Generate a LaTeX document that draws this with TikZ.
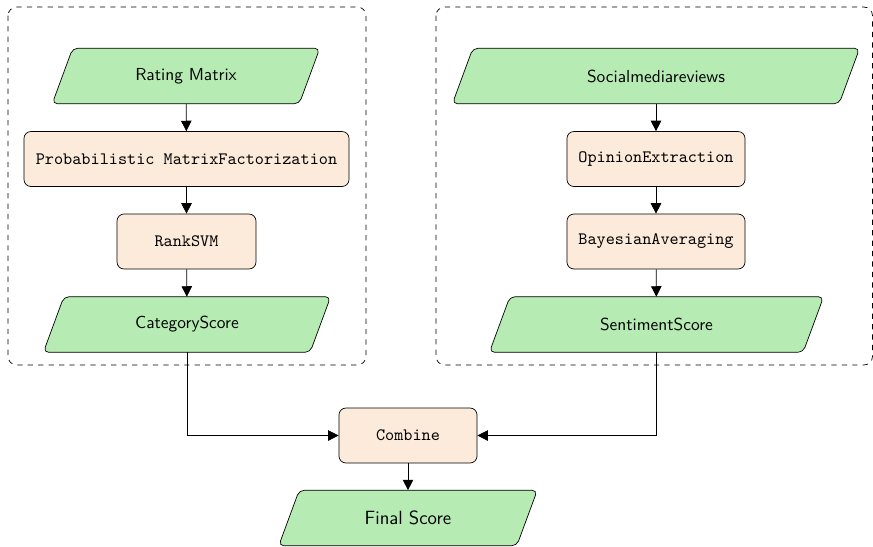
\documentclass[tikz,border=0pt]{standalone}
\usetikzlibrary{arrows.meta,backgrounds}
\definecolor{iogreen}{RGB}{182,236,179}
\definecolor{procorange}{RGB}{252,235,218}
\begin{document}
\begin{tikzpicture}[x=0.575pt,y=-0.575pt,
  iobox/.style={rectangle, minimum height=31.6pt, inner sep=2pt, font=\sffamily},
  iofill/.style={draw, fill=iogreen, rounded corners=3pt},
  procbox/.style={rectangle, draw, fill=procorange, rounded corners=4pt,
    minimum height=31.6pt, inner sep=2pt, font=\ttfamily},
  flow/.style={-{Triangle[length=6pt,width=6pt]}},
  group/.style={draw, dashed, rounded corners=5pt}]
\useasboundingbox (0,0) rectangle (873,546);

% dashed groups
\draw[group] (8,7) rectangle (366,365);
\draw[group] (436,7) rectangle (872.5,365);

% left branch
\node[iobox, minimum width=141.7pt] (rating) at (186,76) {Rating Matrix};
\node[procbox, minimum width=186.9pt] (pmf) at (186.5,159) {Probabilistic MatrixFactorization};
\node[procbox, minimum width=79.9pt] (rank) at (186.5,241.5) {RankSVM};
\node[iobox, minimum width=153pt] (cat) at (187,324.5) {CategoryScore};

% right branch
\node[iobox, minimum width=222pt] (social) at (656,76) {Socialmediareviews};
\node[procbox, minimum width=102.4pt] (opinion) at (656,159) {OpinionExtraction};
\node[procbox, minimum width=102.4pt] (bayes) at (656,241.5) {BayesianAveraging};
\node[iobox, minimum width=180pt] (senti) at (656.5,324.5) {SentimentScore};

% merge
\node[procbox, minimum width=79.4pt] (combine) at (408,435.5) {Combine};
\node[iobox, minimum width=136.5pt, font=\sffamily\fontsize{11}{13}\selectfont] (final) at (408,518) {Final Score};

% slanted data boxes behind the text
\begin{scope}[on background layer]
  \foreach \n in {rating,cat,social,senti,final}
    \draw[iofill] ([xshift=5.9pt]\n.north west) -- ([xshift=5.9pt]\n.north east)
      -- ([xshift=-5.9pt]\n.south east) -- ([xshift=-5.9pt]\n.south west) -- cycle;
\end{scope}

% connectors
\draw[flow] (rating) -- (pmf);
\draw[flow] (pmf) -- (rank);
\draw[flow] (rank) -- (cat);
\draw[flow] (social) -- (opinion);
\draw[flow] (opinion) -- (bayes);
\draw[flow] (bayes) -- (senti);
\draw[flow] (cat.south) |- (combine.west);
\draw[flow] (senti.south) |- (combine.east);
\draw[flow] (combine) -- (final);
\end{tikzpicture}
\end{document}
